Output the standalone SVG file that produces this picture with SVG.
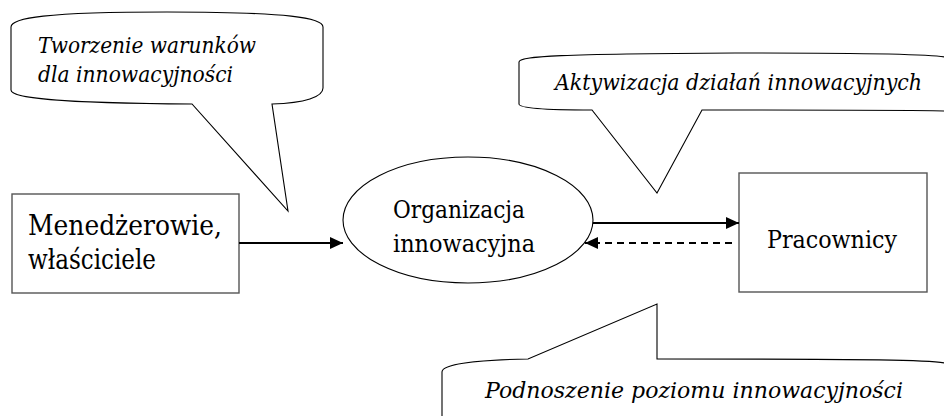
<svg xmlns="http://www.w3.org/2000/svg" width="944" height="416" viewBox="0 0 944 416">
<style>
.call{fill:#fff;stroke:#000;stroke-width:1.1}
.box{fill:#fff;stroke:#555;stroke-width:1.4}
.ct{font-style:italic;font-size:23px}
.nt{font-size:25px}
.big{font-size:28px}
.ln{stroke:#000;stroke-width:2;fill:none}
</style>
<defs>
<marker id="ah" markerUnits="userSpaceOnUse" markerWidth="14" markerHeight="12" refX="13" refY="6" orient="auto">
<path d="M0,0 L13,6 L0,12 Z" fill="#000"/>
</marker>
</defs>
<rect width="944" height="416" fill="#fff"/>
<g font-family="DejaVu Serif, Liberation Serif, Noto Serif, serif" fill="#000">
<g id="callout1">
<path class="call" d="M11,27 C11,18 45,12 167,12 C290,12 323,18 323,27 L323,88 C323,97 305,103 272,104 L288,211 L192,104 C55,103 11,98 11,90 Z"/>
<text class="ct" x="38" y="53" textLength="218" lengthAdjust="spacingAndGlyphs">Tworzenie warunków</text>
<text class="ct" x="38" y="82" textLength="195" lengthAdjust="spacingAndGlyphs">dla innowacyjności</text>
</g>
<g id="callout2">
<path class="call" d="M519,62 C519,56 560,54 735,53 C890,53 935,55 944.6,57 L944.6,111 C930,110 880,110 702,110 L657,193 L592,110 C540,110 519,108 519,104 Z"/>
<text class="ct" x="555" y="90" textLength="367" lengthAdjust="spacingAndGlyphs">Aktywizacja działań innowacyjnych</text>
</g>
<g id="callout3">
<path class="call" d="M442,372 C442,365 470,360 528,359 L657,304 L657,359 C880,359 930,360 944.6,363 L944.6,416.6 L442,416.6 Z"/>
<text class="ct" x="485" y="398" textLength="418" lengthAdjust="spacingAndGlyphs">Podnoszenie poziomu innowacyjności</text>
</g>
<g id="menedzerowie">
<rect class="box" x="12" y="194" width="227" height="99"/>
<text class="big" x="28" y="235" textLength="194" lengthAdjust="spacingAndGlyphs">Menedżerowie,</text>
<text class="big" x="28" y="269" textLength="128" lengthAdjust="spacingAndGlyphs">właściciele</text>
</g>
<g id="organizacja">
<ellipse cx="468" cy="220" rx="125" ry="63" fill="#fff" stroke="#000" stroke-width="1.1"/>
<text class="nt" x="393" y="218" textLength="132" lengthAdjust="spacingAndGlyphs">Organizacja</text>
<text class="nt" x="393" y="252" textLength="142" lengthAdjust="spacingAndGlyphs">innowacyjna</text>
</g>
<g id="pracownicy">
<rect class="box" x="739" y="173" width="188" height="119"/>
<text class="nt" x="767" y="248" textLength="130" lengthAdjust="spacingAndGlyphs">Pracownicy</text>
</g>
</g>
<g id="connectors">
<line class="ln" x1="239" y1="243" x2="343" y2="243" marker-end="url(#ah)"/>
<line class="ln" x1="593" y1="223" x2="739" y2="223" marker-end="url(#ah)"/>
<line class="ln" x1="732" y1="243" x2="585" y2="243" stroke-dasharray="7,5" marker-end="url(#ah)"/>
</g>
</svg>
